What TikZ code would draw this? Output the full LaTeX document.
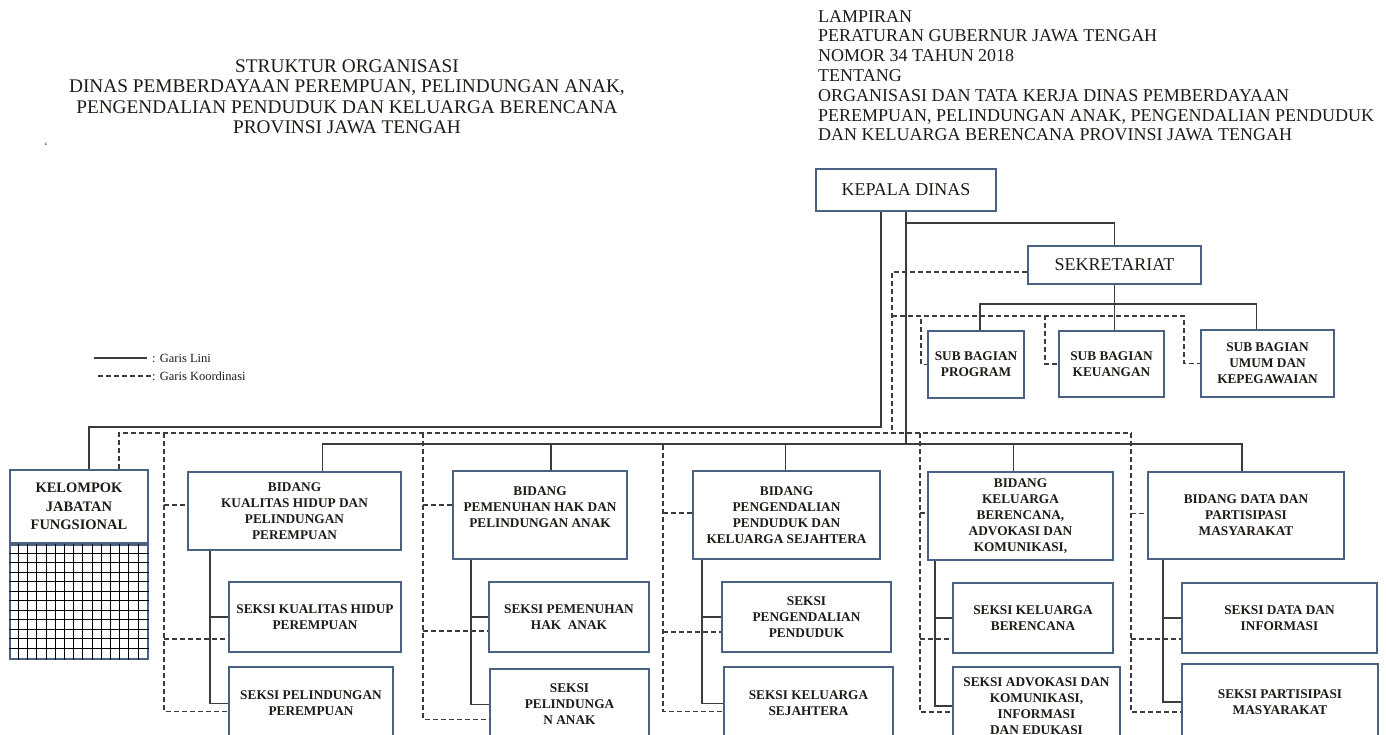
\documentclass[tikz,border=0pt]{standalone}
\usepackage{fontspec}
\setmainfont{Liberation Serif}

\definecolor{boxc}{HTML}{4B6183}
\definecolor{linec}{HTML}{3C3C3C}
\definecolor{txtc}{HTML}{1E1A16}

\tikzset{
  box/.style={draw=boxc, line width=1.7pt, fill=white, text=txtc, align=center, inner sep=2pt,
    font=\bfseries\fontsize{13.3}{16}\selectfont},
  kepala/.style={box, font=\fontsize{18}{20}\selectfont},
  garis/.style={draw=linec, line width=1.6pt},
  koord/.style={draw=linec, line width=1.4pt, dash pattern=on 5pt off 3pt},
  kisi/.style={draw=black, line width=0.9pt},
  judul/.style={align=center, inner sep=0pt, text=txtc, font=\fontsize{19.3}{20.5}\selectfont},
  lampiran/.style={anchor=north west, align=left, inner sep=0pt, text=txtc, font=\fontsize{18}{19.8}\selectfont},
  legenda/.style={anchor=west, inner sep=1pt, text=txtc, font=\fontsize{12.5}{14}\selectfont}
}

\begin{document}
\begin{tikzpicture}[x=1pt,y=-1pt]
  \useasboundingbox (0,0) rectangle (1386,735);
  \clip (0,0) rectangle (1386,735);

  % judul dan lampiran
  \node[judul] (jdl) at (347,97) {STRUKTUR ORGANISASI\\DINAS PEMBERDAYAAN PEREMPUAN, PELINDUNGAN ANAK,\\PENGENDALIAN PENDUDUK DAN KELUARGA BERENCANA\\PROVINSI JAWA TENGAH};
  \node[inner sep=0pt, font=\fontsize{10}{10}\selectfont] (tik) at (46,146) {`};
  \node[lampiran] (lamp) at (818,10) {LAMPIRAN\\PERATURAN GUBERNUR JAWA TENGAH\\NOMOR 34 TAHUN 2018\\TENTANG\\ORGANISASI DAN TATA KERJA DINAS PEMBERDAYAAN\\PEREMPUAN, PELINDUNGAN ANAK, PENGENDALIAN PENDUDUK\\DAN KELUARGA BERENCANA PROVINSI JAWA TENGAH};

  % legenda
  \node[legenda] (lini) at (151,358) {: Garis Lini};
  \node[legenda] (koor) at (151,376) {: Garis Koordinasi};
  \draw[garis] ([xshift=-4pt]lini.west) -- ++(-53,0);
  \draw[koord] (koor.west) -- ++(-55,0);

  % pimpinan dan sekretariat
  \node[kepala, minimum width=180, minimum height=42] (kd) at (906,190) {KEPALA DINAS};
  \node[kepala, minimum width=173, minimum height=38] (sek) at (1114.5,265) {SEKRETARIAT};
  \node[box, minimum width=96, minimum height=67] (sbp) at (976,364.5) {SUB BAGIAN\\PROGRAM};
  \node[box, minimum width=105, minimum height=66] (sbk) at (1111.5,364) {SUB BAGIAN\\KEUANGAN};
  \node[box, minimum width=133, minimum height=67] (sbu) at (1267.5,363.5) {SUB BAGIAN\\UMUM DAN\\KEPEGAWAIAN};

  % kelompok jabatan fungsional
  \node[box, minimum width=138, minimum height=73, font=\bfseries\fontsize{14.5}{18.5}\selectfont] (kjf) at (79,506.5) {KELOMPOK\\JABATAN\\FUNGSIONAL};
  \node[box, minimum width=138, minimum height=114, anchor=north] (kjfg) at (kjf.south) {};
  \foreach \i in {1,...,14}
    \draw[kisi] ([xshift=\i*9.2pt]kjfg.north west) -- ([xshift=\i*9.2pt]kjfg.south west);
  \foreach \j in {1,...,11}
    \draw[kisi] ([yshift=-\j*9.5pt]kjfg.north west) -- ([yshift=-\j*9.5pt]kjfg.north east);

  % bidang dan seksi
  \node[box, minimum width=213, minimum height=78] (kh) at (294.5,511) {BIDANG\\KUALITAS HIDUP DAN\\PELINDUNGAN\\PEREMPUAN};
  \node[box, minimum width=172, minimum height=70] (kh1) at (315,617) {SEKSI KUALITAS HIDUP\\PEREMPUAN};
  \node[box, minimum width=164, minimum height=73] (kh2) at (311,703.5) {SEKSI PELINDUNGAN\\PEREMPUAN};

  \node[box, minimum width=174, minimum height=88] (pa) at (540,515) {BIDANG\\PEMENUHAN HAK DAN\\PELINDUNGAN ANAK\\\mbox{}};
  \node[box, minimum width=160, minimum height=70] (pa1) at (569,617) {SEKSI PEMENUHAN\\HAK\ \ ANAK};
  \node[box, minimum width=159, minimum height=71] (pa2) at (569.5,704.5) {SEKSI\\PELINDUNGA\\N ANAK};

  \node[box, minimum width=187, minimum height=88] (pp) at (786.5,515) {BIDANG\\PENGENDALIAN\\PENDUDUK DAN\\KELUARGA SEJAHTERA};
  \node[box, minimum width=169, minimum height=70] (pp1) at (806.5,617) {SEKSI\\PENGENDALIAN\\PENDUDUK};
  \node[box, minimum width=169, minimum height=73] (pp2) at (808.5,703.5) {SEKSI KELUARGA\\SEJAHTERA};

  \node[box, minimum width=185, minimum height=88] (kb) at (1020.5,516) {BIDANG\\KELUARGA\\BERENCANA,\\ADVOKASI DAN\\KOMUNIKASI,};
  \node[box, minimum width=160, minimum height=70] (kb1) at (1033,618) {SEKSI KELUARGA\\BERENCANA};
  \node[box, minimum width=167, minimum height=78] (kb2) at (1036.5,706) {SEKSI ADVOKASI DAN\\KOMUNIKASI,\\INFORMASI\\DAN EDUKASI};

  \node[box, minimum width=196, minimum height=87] (dp) at (1246,515.5) {BIDANG DATA DAN\\PARTISIPASI\\MASYARAKAT};
  \node[box, minimum width=195, minimum height=70] (dp1) at (1279.5,618) {SEKSI DATA DAN\\INFORMASI};
  \node[box, minimum width=196, minimum height=76] (dp2) at (1280,702) {SEKSI PARTISIPASI\\MASYARAKAT};

  \coordinate (bus) at (0,445);
  \coordinate (kline) at (0,433);
  \coordinate (kj) at (892,433);
  \coordinate (sj) at (892,316);
  \coordinate (sbar) at (0,305);

  % garis lini
  \draw[garis] ([xshift=-25pt]kd.south) -- ++(0,215) -| ([xshift=10pt]kjf.north);
  \draw[garis] (kd.south) -- (kd.south |- bus);
  \draw[garis] (kd.south |- 0,223) -| (sek.north);
  \draw[garis] (sek.south) -- (sek.south |- sbk.north);
  \draw[garis] ([xshift=4pt]sbp.north) -- ++(0,-26) -| ([xshift=-11pt]sbu.north);
  \draw[garis] ([xshift=28pt]kh.north) -- ++(0,-27) -| ([xshift=-4pt]dp.north);
  \foreach \b/\dx in {pa/11,pp/-1,kb/-7}
    \draw[garis] ([xshift=\dx pt]\b.north) -- ++(0,-27);
  \foreach \b/\dx in {kh/23,pa/19,pp/10,kb/8,dp/16} {
    \draw[garis] ([xshift=\dx pt]\b.south west) coordinate (\b v) |- (\b 2.west);
    \draw[garis] (\b v |- \b 1.west) -- (\b 1.west);
  }

  % garis koordinasi
  \draw[koord] ([yshift=-7pt]sek.west) -| (kj);
  \draw[koord] (sj) -| ([xshift=-6pt]sbp.west) -- (sbp.west);
  \draw[koord] (sj) -| ([xshift=-13pt]sbk.west) -- (sbk.west);
  \draw[koord] (sj) -| ([xshift=-16pt]sbu.west) -- (sbu.west);
  \foreach \b/\dx/\yc/\ya/\yb/\top in {kh/-23/6/-22/-8/kline, pa/-29/10/-14/-15/kline,
      pp/-29/2/-15/-8/bus, kb/-7/3/-21/-6/kline, dp/-16/2/-21/-10/kline} {
    \path ([xshift=\dx pt, yshift=\yc pt]\b.west) coordinate (\b k)
          ([yshift=\ya pt]\b 1.west) coordinate (\b s);
    \draw[koord] (\b k |- \top) |- ([yshift=\yb pt]\b 2.west);
    \draw[koord] (\b k) -- (\b k -| \b.west);
    \draw[koord] (\b k |- \b s) -- (\b s);
  }
  \draw[koord] ([xshift=40pt]kjf.north) |- (dpk |- kline);
\end{tikzpicture}
\end{document}
